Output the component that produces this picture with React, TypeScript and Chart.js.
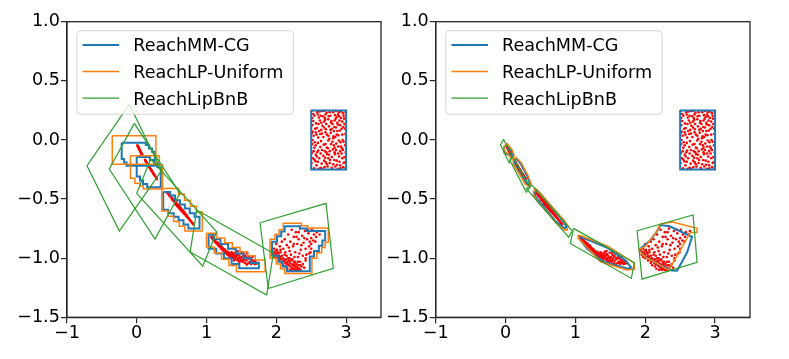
import React, { useEffect, useRef } from "react";
import { Chart, registerables } from "chart.js";

Chart.register(...registerables);

type P = [number, number];

// ---------- axes ----------
const xTicks = [-1, 0, 1, 2, 3];
const xTickLabels = ["\u22121", "0", "1", "2", "3"];
const yTicks = [-1.5, -1.0, -0.5, 0.0, 0.5, 1.0];
const yTickLabels = ["\u22121.5", "\u22121.0", "\u22120.5", "0.0", "0.5", "1.0"];
const xMin = -1;
const xMax = 3.5;
const yMin = -1.5;
const yMax = 1.0;

// ---------- series ----------
const seriesNames = ["ReachMM-CG", "ReachLP-Uniform", "ReachLipBnB"];
const seriesColors = ["#1f77b4", "#ff7f0e", "#2ca02c"];
const seriesWidths = [2, 1.5, 1.2];
const sampleColor = "#ff0000";

// ---------- Monte Carlo samples (shared by both panels) ----------
const samples0: P[] = [
  [2.53, 0.22], [2.61, 0.19], [2.72, 0.23], [2.84, 0.21], [2.93, 0.24], [2.57, 0.14], [2.66, 0.12], [2.79, 0.16], [2.88, 0.13], [2.97, 0.18],
  [2.52, 0.07], [2.63, 0.05], [2.71, 0.09], [2.82, 0.03], [2.91, 0.08], [2.55, -0.02], [2.68, -0.04], [2.76, 0.01], [2.86, -0.03], [2.95, 0.0],
  [2.51, -0.11], [2.6, -0.09], [2.73, -0.12], [2.81, -0.08], [2.9, -0.14], [2.56, -0.18], [2.65, -0.2], [2.77, -0.17], [2.87, -0.21], [2.98, -0.19],
  [2.54, -0.24], [2.69, -0.23], [2.8, -0.245], [2.92, -0.24], [2.62, 0.24], [2.75, 0.2], [2.9, 0.2], [2.58, 0.1], [2.7, 0.17], [2.83, 0.11],
  [2.96, 0.11], [2.52, 0.0], [2.64, -0.01], [2.74, -0.07], [2.84, -0.12], [2.94, -0.07], [2.58, -0.14], [2.71, -0.19], [2.83, -0.17], [2.96, -0.23],
  [2.6, 0.02], [2.78, 0.06], [2.89, 0.04], [2.67, 0.2], [2.99, 0.05], [2.53, 0.16], [2.85, 0.18], [2.7, -0.15], [2.63, -0.06], [2.92, -0.02],
  [2.515, 0.185], [2.595, 0.215], [2.685, 0.155], [2.765, 0.235], [2.855, 0.245], [2.945, 0.155], [2.535, 0.035], [2.645, 0.085], [2.725, 0.045], [2.805, 0.135],
  [2.875, 0.075], [2.985, -0.045], [2.545, -0.065], [2.615, -0.155], [2.695, -0.095], [2.785, -0.035], [2.865, -0.175], [2.935, -0.115], [2.575, -0.215], [2.735, -0.225],
  [2.815, -0.205], [2.905, -0.185], [2.975, -0.145], [2.525, -0.155], [2.655, -0.245], [2.745, -0.005], [2.835, -0.065], [2.915, 0.125], [2.565, 0.065], [2.625, 0.165],
  [2.705, 0.215], [2.795, 0.095], [2.885, 0.215], [2.955, 0.225], [2.585, -0.105], [2.675, 0.025], [2.755, -0.125], [2.845, 0.025], [2.925, -0.055], [2.985, 0.095],
  [2.505, 0.245], [2.545, 0.205], [2.585, 0.235], [2.635, 0.205], [2.655, 0.245], [2.695, 0.185], [2.745, 0.175], [2.775, 0.205], [2.815, 0.235], [2.835, 0.165],
  [2.865, 0.195], [2.895, 0.235], [2.925, 0.185], [2.965, 0.205], [2.995, 0.235], [2.515, 0.125], [2.555, 0.095], [2.605, 0.135], [2.645, 0.145], [2.685, 0.105],
  [2.715, 0.135], [2.755, 0.115], [2.785, 0.145], [2.825, 0.075], [2.855, 0.105], [2.905, 0.165], [2.935, 0.095], [2.975, 0.135], [2.505, 0.055], [2.575, 0.045],
  [2.615, 0.075], [2.655, 0.055], [2.705, 0.065], [2.745, 0.035], [2.775, 0.085], [2.815, 0.015], [2.865, 0.045], [2.895, -0.005], [2.945, 0.045], [2.965, -0.015],
  [2.515, -0.035], [2.565, -0.045], [2.595, -0.025], [2.655, -0.085], [2.705, -0.035], [2.725, -0.065], [2.765, -0.095], [2.805, -0.015], [2.855, -0.085], [2.885, -0.055],
  [2.915, -0.095], [2.955, -0.085], [2.995, -0.105], [2.535, -0.095], [2.565, -0.125], [2.635, -0.115], [2.675, -0.135], [2.715, -0.105], [2.795, -0.145], [2.835, -0.105],
  [2.885, -0.115], [2.945, -0.155], [2.505, -0.195], [2.545, -0.165], [2.595, -0.185], [2.635, -0.235], [2.685, -0.175], [2.725, -0.205], [2.765, -0.195], [2.795, -0.235],
  [2.845, -0.225], [2.885, -0.245], [2.915, -0.215], [2.965, -0.195], [2.995, -0.245], [2.605, -0.245], [2.745, -0.155], [2.825, -0.045], [2.875, 0.145], [2.685, 0.245],
];
const samples1: P[] = [
  [0.01, -0.045], [0.016, -0.053], [0.021, -0.057], [0.027, -0.066], [0.033, -0.071], [0.038, -0.08], [0.044, -0.085], [0.05, -0.094], [0.055, -0.098], [0.061, -0.108],
  [0.066, -0.112], [0.072, -0.121], [0.078, -0.126], [0.082, -0.133], [0.03, -0.069], [0.047, -0.089], [0.058, -0.102], [0.069, -0.116], [0.019, -0.056], [0.041, -0.082],
];
const samples2: P[] = [
  [0.12, -0.168], [0.13, -0.181], [0.142, -0.189], [0.15, -0.199], [0.16, -0.209], [0.171, -0.219], [0.18, -0.228], [0.19, -0.237], [0.2, -0.247], [0.21, -0.258],
  [0.221, -0.264], [0.23, -0.277], [0.24, -0.283], [0.25, -0.294], [0.26, -0.302], [0.27, -0.311], [0.28, -0.32], [0.29, -0.331], [0.165, -0.213], [0.205, -0.251],
  [0.245, -0.291], [0.135, -0.185], [0.125, -0.176], [0.175, -0.222], [0.215, -0.262], [0.255, -0.297], [0.285, -0.326],
];
const samples3: P[] = [
  [0.44, -0.45], [0.455, -0.458], [0.47, -0.472], [0.478, -0.474], [0.49, -0.482], [0.5, -0.49], [0.505, -0.5], [0.515, -0.497], [0.52, -0.51], [0.53, -0.515],
  [0.535, -0.505], [0.545, -0.53], [0.55, -0.52], [0.56, -0.54], [0.565, -0.527], [0.57, -0.548], [0.58, -0.545], [0.585, -0.562], [0.59, -0.548], [0.6, -0.57],
  [0.605, -0.555], [0.612, -0.575], [0.62, -0.568], [0.628, -0.59], [0.635, -0.58], [0.642, -0.6], [0.65, -0.59], [0.66, -0.61], [0.665, -0.598], [0.675, -0.62],
  [0.68, -0.61], [0.69, -0.63], [0.7, -0.628], [0.71, -0.645], [0.72, -0.64], [0.73, -0.658], [0.74, -0.66], [0.75, -0.668], [0.76, -0.677], [0.77, -0.683],
  [0.78, -0.69], [0.79, -0.698], [0.8, -0.705], [0.81, -0.712], [0.555, -0.545], [0.625, -0.575], [0.695, -0.622],
  [0.462, -0.466], [0.485, -0.479], [0.512, -0.506], [0.541, -0.52], [0.575, -0.553], [0.595, -0.56], [0.615, -0.583], [0.655, -0.603], [0.685, -0.622], [0.725, -0.65],
];
const samples4: P[] = [
  [1.07, -0.82], [1.08, -0.83], [1.09, -0.828], [1.095, -0.84], [1.1, -0.845], [1.11, -0.85], [1.115, -0.842], [1.12, -0.86], [1.13, -0.862], [1.135, -0.872],
  [1.14, -0.865], [1.15, -0.878], [1.16, -0.885], [1.165, -0.875], [1.17, -0.893], [1.18, -0.89], [1.185, -0.902], [1.19, -0.895], [1.2, -0.91], [1.21, -0.9],
  [1.215, -0.918], [1.22, -0.925], [1.23, -0.915], [1.235, -0.932], [1.24, -0.922], [1.25, -0.94], [1.26, -0.93], [1.265, -0.948], [1.27, -0.955], [1.28, -0.94],
  [1.285, -0.96], [1.29, -0.95], [1.3, -0.968], [1.305, -0.945], [1.31, -0.975], [1.32, -0.96], [1.33, -0.982], [1.335, -0.955], [1.34, -0.99], [1.35, -0.97],
  [1.36, -0.95], [1.37, -0.985], [1.38, -1.0], [1.39, -0.96], [1.4, -0.975], [1.41, -1.005], [1.42, -0.945], [1.43, -0.99], [1.44, -1.015], [1.45, -0.965],
  [1.46, -1.0], [1.47, -0.98], [1.48, -1.025], [1.49, -0.955], [1.5, -1.01], [1.51, -0.99], [1.52, -1.03], [1.53, -0.97], [1.54, -1.0], [1.55, -1.04],
  [1.56, -0.985], [1.57, -1.02], [1.58, -0.96], [1.59, -1.045], [1.6, -1.005], [1.61, -0.985], [1.62, -1.03], [1.63, -1.0], [1.64, -1.05], [1.65, -1.015],
  [1.66, -0.99], [1.67, -1.04], [1.68, -1.02], [1.69, -1.05], [1.7, -1.03], [1.72, -1.045], [1.74, -1.04], [1.415, -0.96], [1.465, -1.03], [1.525, -0.955],
  [1.575, -1.055], [1.345, -1.0], [1.395, -1.02], [1.445, -0.94],
  [1.075, -0.825], [1.085, -0.835], [1.105, -0.838], [1.125, -0.855], [1.145, -0.872], [1.155, -0.868], [1.175, -0.88], [1.195, -0.905], [1.205, -0.892], [1.225, -0.91],
  [1.245, -0.935], [1.255, -0.925], [1.275, -0.945], [1.295, -0.962], [1.315, -0.955], [1.325, -0.97], [1.355, -0.985], [1.375, -0.965], [1.385, -0.99], [1.405, -0.99],
  [1.435, -0.975], [1.455, -1.01], [1.485, -0.995], [1.505, -1.025], [1.535, -1.015], [1.545, -0.975], [1.585, -1.0], [1.615, -1.04], [1.655, -1.035], [1.705, -1.045],
];
const samples5: P[] = [
  [1.94, -0.93], [1.96, -0.95], [1.97, -0.92], [1.98, -0.96], [1.99, -0.94], [2.0, -0.97], [2.01, -0.93], [2.02, -0.99], [2.03, -0.96], [2.04, -0.98],
  [2.05, -1.0], [2.06, -0.95], [2.07, -1.01], [2.08, -0.98], [2.09, -1.03], [2.1, -1.0], [2.11, -1.02], [2.12, -0.97], [2.13, -1.04], [2.14, -1.01],
  [2.15, -1.05], [2.16, -1.03], [2.17, -1.0], [2.18, -1.06], [2.19, -1.04], [2.2, -1.07], [2.21, -1.02], [2.22, -1.05], [2.23, -1.08], [2.24, -1.06],
  [2.25, -1.03], [2.26, -1.09], [2.27, -1.07], [2.28, -1.1], [2.29, -1.05], [2.3, -1.08], [2.31, -1.1], [2.32, -1.06], [2.33, -1.09], [2.34, -1.03],
  [2.35, -1.1], [2.36, -1.07], [2.38, -1.05], [2.4, -1.08], [2.42, -1.02],
  [2.0, -0.88], [2.05, -0.9], [2.08, -0.86], [2.1, -0.92], [2.12, -0.84], [2.15, -0.89], [2.17, -0.8], [2.19, -0.94], [2.2, -0.86], [2.22, -0.76],
  [2.24, -0.9], [2.25, -0.82], [2.27, -0.95], [2.28, -0.78], [2.3, -0.88], [2.31, -0.99], [2.32, -0.84], [2.34, -0.75], [2.35, -0.93], [2.37, -0.81],
  [2.38, -0.98], [2.39, -0.87], [2.41, -0.77], [2.42, -0.92], [2.44, -0.84], [2.42, -1.0], [2.46, -0.79], [2.47, -0.9], [2.49, -0.95], [2.5, -0.83],
  [2.51, -0.76], [2.5, -0.88], [2.54, -0.8], [2.5, -0.92], [2.57, -0.82], [2.58, -0.78], [2.56, -0.86], [2.62, -0.8], [2.64, -0.77], [2.13, -0.95],
  [2.18, -0.91], [2.26, -0.99], [2.33, -0.96], [2.43, -0.97], [2.36, -0.89], [2.29, -0.82], [2.21, -0.97], [2.06, -0.93], [2.48, -0.86], [2.47, -0.96],
  [1.95, -0.97], [1.97, -0.99], [2.0, -1.0], [2.02, -0.95], [2.04, -1.02], [2.06, -0.99], [2.08, -1.04], [2.1, -1.06], [2.12, -1.02], [2.14, -1.07],
  [2.16, -1.09], [2.18, -1.02], [2.2, -1.1], [2.22, -1.09], [2.24, -1.1], [2.26, -1.05], [2.28, -1.07], [2.3, -1.1], [2.32, -1.09], [2.34, -1.06],
  [2.15, -0.98], [2.19, -1.0], [2.23, -1.01], [2.27, -1.03], [2.31, -1.03], [2.25, -0.88], [2.32, -0.78], [2.4, -0.83], [2.45, -0.76], [2.53, -0.85],
];
const samples = [samples0, samples1, samples2, samples3, samples4, samples5];

// ---------- left panel reachable sets ----------
const leftBlue: P[][] = [
  [[2.5, 0.25], [3.0, 0.25], [3.0, -0.25], [2.5, -0.25]],
  [[-0.215, -0.024], [0.13, -0.024], [0.13, -0.043], [0.175, -0.043], [0.175, -0.073], [0.22, -0.073], [0.22, -0.1], [0.26, -0.1], [0.26, -0.218], [-0.145, -0.218], [-0.145, -0.19], [-0.18, -0.19], [-0.18, -0.162], [-0.215, -0.162]],
  [[0.0, -0.145], [0.19, -0.145], [0.19, -0.17], [0.25, -0.17], [0.25, -0.2], [0.295, -0.2], [0.295, -0.23], [0.345, -0.23], [0.345, -0.4], [0.15, -0.4], [0.15, -0.373], [0.09, -0.373], [0.09, -0.343], [0.047, -0.343], [0.047, -0.31], [0.0, -0.31]],
  [[0.38, -0.44], [0.48, -0.44], [0.48, -0.47], [0.55, -0.47], [0.55, -0.51], [0.62, -0.51], [0.62, -0.545], [0.69, -0.545], [0.69, -0.58], [0.76, -0.58], [0.76, -0.62], [0.83, -0.62], [0.83, -0.65], [0.9, -0.65], [0.9, -0.75], [0.74, -0.75], [0.74, -0.715], [0.67, -0.715], [0.67, -0.68], [0.6, -0.68], [0.6, -0.65], [0.53, -0.65], [0.53, -0.62], [0.45, -0.62], [0.45, -0.59], [0.38, -0.59]],
  [[1.03, -0.8], [1.1, -0.8], [1.1, -0.84], [1.2, -0.84], [1.2, -0.88], [1.31, -0.88], [1.31, -0.92], [1.42, -0.92], [1.42, -0.96], [1.53, -0.96], [1.53, -1.0], [1.64, -1.0], [1.64, -1.04], [1.75, -1.04], [1.75, -1.085], [1.47, -1.085], [1.47, -1.05], [1.36, -1.05], [1.36, -1.0], [1.25, -1.0], [1.25, -0.96], [1.14, -0.96], [1.14, -0.92], [1.03, -0.92]],
  [[2.17, -0.73], [2.34, -0.73], [2.34, -0.75], [2.43, -0.75], [2.43, -0.77], [2.7, -0.77], [2.7, -0.85], [2.66, -0.85], [2.66, -0.895], [2.61, -0.895], [2.61, -0.94], [2.54, -0.94], [2.54, -0.985], [2.48, -0.985], [2.48, -1.11], [2.15, -1.11], [2.15, -1.07], [2.09, -1.07], [2.09, -1.03], [2.03, -1.03], [2.03, -0.98], [1.94, -0.98], [1.94, -0.86], [2.01, -0.86], [2.01, -0.815], [2.07, -0.815], [2.07, -0.775], [2.12, -0.775], [2.12, -0.73]],
];
const leftOrange: P[][] = [
  [[-0.35, 0.035], [0.275, 0.035], [0.275, -0.205], [-0.35, -0.205]],
  [[-0.09, -0.134], [0.325, -0.134], [0.325, -0.21], [0.37, -0.21], [0.37, -0.415], [0.095, -0.415], [0.095, -0.39], [0.045, -0.39], [0.045, -0.367], [-0.025, -0.367], [-0.025, -0.325], [-0.09, -0.325]],
  [[0.36, -0.41], [0.6, -0.41], [0.6, -0.46], [0.685, -0.46], [0.685, -0.51], [0.77, -0.51], [0.77, -0.56], [0.855, -0.56], [0.855, -0.61], [0.94, -0.61], [0.94, -0.77], [0.69, -0.77], [0.69, -0.73], [0.61, -0.73], [0.61, -0.69], [0.53, -0.69], [0.53, -0.645], [0.445, -0.645], [0.445, -0.6], [0.36, -0.6]],
  [[1.0, -0.79], [1.15, -0.79], [1.15, -0.83], [1.26, -0.83], [1.26, -0.87], [1.37, -0.87], [1.37, -0.91], [1.48, -0.91], [1.48, -0.945], [1.59, -0.945], [1.59, -0.98], [1.7, -0.98], [1.7, -1.015], [1.84, -1.015], [1.84, -1.115], [1.43, -1.115], [1.43, -1.062], [1.32, -1.062], [1.32, -1.01], [1.215, -1.01], [1.215, -0.957], [1.11, -0.957], [1.11, -0.905], [1.0, -0.905]],
  [[2.15, -0.705], [2.36, -0.705], [2.36, -0.725], [2.45, -0.725], [2.45, -0.745], [2.745, -0.745], [2.745, -0.865], [2.7, -0.865], [2.7, -0.91], [2.65, -0.91], [2.65, -0.955], [2.58, -0.955], [2.58, -1.0], [2.51, -1.0], [2.51, -1.13], [2.12, -1.13], [2.12, -1.09], [2.06, -1.09], [2.06, -1.05], [2.0, -1.05], [2.0, -1.0], [1.91, -1.0], [1.91, -0.84], [1.98, -0.84], [1.98, -0.8], [2.04, -0.8], [2.04, -0.76], [2.1, -0.76], [2.1, -0.705]],
];
const leftGreen: P[][] = [
  [[-0.106, 0.301], [0.357, -0.26], [-0.249, -0.771], [-0.712, -0.218]],
  [[-0.034, 0.14], [0.62, -0.452], [0.262, -0.838], [-0.393, -0.246]],
  [[0.201, -0.162], [1.146, -0.777], [0.946, -1.067], [0.0, -0.452]],
  [[0.86, -0.593], [1.958, -0.959], [1.862, -1.312], [0.766, -0.947]],
  [[1.767, -0.7], [2.712, -0.536], [2.817, -1.086], [1.885, -1.256]],
];

// ---------- right panel reachable sets ----------
const rightBlue: P[][] = [
  [[2.5, 0.25], [3.0, 0.25], [3.0, -0.25], [2.5, -0.25]],
  [[-0.03, -0.065], [0.02, -0.045], [0.085, -0.09], [0.11, -0.135], [0.095, -0.15], [0.04, -0.125], [-0.015, -0.11]],
  [[0.125, -0.175], [0.155, -0.16], [0.22, -0.205], [0.315, -0.31], [0.35, -0.37], [0.335, -0.385], [0.29, -0.36], [0.19, -0.27], [0.125, -0.2]],
  [[0.42, -0.44], [0.45, -0.425], [0.59, -0.52], [0.83, -0.69], [0.87, -0.735], [0.85, -0.75], [0.72, -0.69], [0.47, -0.51], [0.42, -0.47]],
  [[1.06, -0.815], [1.45, -0.91], [1.72, -1.02], [1.8, -1.08], [1.75, -1.09], [1.4, -1.03], [1.17, -0.92], [1.06, -0.84]],
  [[1.91, -0.93], [2.07, -0.85], [2.16, -0.78], [2.22, -0.72], [2.35, -0.73], [2.67, -0.82], [2.6, -0.95], [2.456, -1.107], [2.38, -1.105], [2.17, -1.045], [2.0, -0.99]],
];
const rightOrange: P[][] = [
  [[-0.029, -0.061], [0.024, -0.03], [0.096, -0.085], [0.125, -0.136], [0.096, -0.157], [0.039, -0.128], [-0.019, -0.085]],
  [[0.11, -0.17], [0.153, -0.149], [0.225, -0.195], [0.325, -0.305], [0.368, -0.373], [0.34, -0.398], [0.282, -0.373], [0.182, -0.272], [0.11, -0.203]],
  [[0.4, -0.43], [0.43, -0.41], [0.5, -0.45], [0.6, -0.52], [0.72, -0.6], [0.84, -0.68], [0.895, -0.73], [0.88, -0.765], [0.84, -0.76], [0.72, -0.7], [0.58, -0.6], [0.46, -0.52], [0.4, -0.465]],
  [[1.04, -0.805], [1.08, -0.81], [1.47, -0.9], [1.84, -1.04], [1.845, -1.095], [1.74, -1.1], [1.36, -1.03], [1.17, -0.91], [1.04, -0.83]],
  [[1.905, -0.931], [2.0, -0.9], [2.073, -0.847], [2.159, -0.779], [2.216, -0.711], [2.388, -0.695], [2.742, -0.748], [2.742, -0.782], [2.646, -0.782], [2.503, -0.931], [2.335, -1.101], [2.169, -1.044], [2.001, -0.991]],
];
const rightGreen: P[][] = [
  [[-0.029, 0.005], [0.096, -0.145], [0.053, -0.195], [-0.072, -0.043]],
  [[0.096, -0.14], [0.354, -0.398], [0.297, -0.441], [0.06, -0.17]],
  [[0.378, -0.382], [0.956, -0.771], [0.903, -0.822], [0.297, -0.411]],
  [[0.974, -0.748], [1.844, -1.039], [1.801, -1.171], [0.927, -0.875]],
  [[1.883, -0.768], [2.685, -0.635], [2.742, -1.036], [1.954, -1.177]],
];

// ---------- rendering ----------
const FONT_FAMILY = "'DejaVu Sans', sans-serif";
const FONT_SIZE = 17.6;
const AXIS_COLOR = "#262626";

function polyDataset(poly: P[], seriesIndex: number) {
  const closed = poly.concat([poly[0]]);
  return {
    data: closed.map(([x, y]) => ({ x, y })),
    showLine: true,
    borderColor: seriesColors[seriesIndex],
    backgroundColor: seriesColors[seriesIndex],
    borderWidth: seriesWidths[seriesIndex],
    pointRadius: 0,
    pointHoverRadius: 0,
    fill: false,
    tension: 0,
    order: 2 - seriesIndex,
  };
}

function sampleDataset(pts: P[]) {
  return {
    data: pts.map(([x, y]) => ({ x, y })),
    showLine: false,
    pointRadius: 1.3,
    pointHoverRadius: 1.3,
    pointBorderWidth: 0,
    pointBackgroundColor: sampleColor,
    borderColor: sampleColor,
    backgroundColor: sampleColor,
    order: 5,
  };
}

const framePlugin = {
  id: "mplFrameLegend",
  afterDraw(chart: any) {
    const { ctx, chartArea } = chart;
    ctx.save();
    ctx.strokeStyle = AXIS_COLOR;
    ctx.lineWidth = 1.3;
    ctx.strokeRect(chartArea.left, chartArea.top, chartArea.right - chartArea.left, chartArea.bottom - chartArea.top);

    const bx = chartArea.left + 10;
    const by = chartArea.top + 9;
    const bw = 216.5;
    const bh = 83.6;
    const r = 4;
    ctx.beginPath();
    ctx.moveTo(bx + r, by);
    ctx.lineTo(bx + bw - r, by);
    ctx.arcTo(bx + bw, by, bx + bw, by + r, r);
    ctx.lineTo(bx + bw, by + bh - r);
    ctx.arcTo(bx + bw, by + bh, bx + bw - r, by + bh, r);
    ctx.lineTo(bx + r, by + bh);
    ctx.arcTo(bx, by + bh, bx, by + bh - r, r);
    ctx.lineTo(bx, by + r);
    ctx.arcTo(bx, by, bx + r, by, r);
    ctx.closePath();
    ctx.fillStyle = "rgba(255,255,255,0.8)";
    ctx.fill();
    ctx.strokeStyle = "rgba(204,204,204,0.8)";
    ctx.lineWidth = 1;
    ctx.stroke();

    ctx.font = `${FONT_SIZE}px ${FONT_FAMILY}`;
    ctx.textAlign = "left";
    ctx.textBaseline = "alphabetic";
    seriesNames.forEach((name, i) => {
      const ry = by + 14.3 + i * 26.6;
      ctx.beginPath();
      ctx.strokeStyle = seriesColors[i];
      ctx.lineWidth = seriesWidths[i];
      ctx.moveTo(bx + 5.7, ry);
      ctx.lineTo(bx + 42.3, ry);
      ctx.stroke();
      ctx.fillStyle = "#000";
      ctx.fillText(name, bx + 56.3, ry + 6.4);
    });
    ctx.restore();
  },
};

type PanelProps = {
  blue: P[][];
  orange: P[][];
  green: P[][];
  left: number;
  width: number;
  axisWidth: number;
  padRight: number;
};

function ReachPanel({ blue, orange, green, left, width, axisWidth, padRight }: PanelProps) {
  const ref = useRef<HTMLCanvasElement | null>(null);
  useEffect(() => {
    if (!ref.current) return;
    const datasets: any[] = [];
    green.forEach((p) => datasets.push(polyDataset(p, 2)));
    orange.forEach((p) => datasets.push(polyDataset(p, 1)));
    blue.forEach((p) => datasets.push(polyDataset(p, 0)));
    samples.forEach((s) => datasets.push(sampleDataset(s)));

    const font = { family: FONT_FAMILY, size: FONT_SIZE };
    const chart = new Chart(ref.current, {
      type: "scatter",
      data: { datasets },
      plugins: [framePlugin],
      options: {
        animation: false,
        responsive: false,
        maintainAspectRatio: false,
        events: [],
        layout: { padding: { top: 21.7, right: padRight, bottom: 0, left: 0 } },
        plugins: { legend: { display: false }, tooltip: { enabled: false } },
        scales: {
          x: {
            type: "linear",
            min: xMin,
            max: xMax,
            afterBuildTicks: (s: any) => {
              s.ticks = xTicks.map((v) => ({ value: v }));
            },
            afterFit: (s: any) => {
              s.height = 41.7;
            },
            grid: { drawOnChartArea: false, drawTicks: true, tickLength: 6, color: AXIS_COLOR, lineWidth: 1.2 },
            border: { display: true, color: AXIS_COLOR, width: 1.3 },
            ticks: {
              font,
              color: "#000",
              padding: 0,
              maxRotation: 0,
              autoSkip: false,
              callback: (v: any) => xTickLabels[xTicks.indexOf(Number(v))],
            },
          },
          y: {
            type: "linear",
            min: yMin,
            max: yMax,
            afterBuildTicks: (s: any) => {
              s.ticks = yTicks.map((v) => ({ value: v }));
            },
            afterFit: (s: any) => {
              s.width = axisWidth;
            },
            grid: { drawOnChartArea: false, drawTicks: true, tickLength: 6, color: AXIS_COLOR, lineWidth: 1.2 },
            border: { display: true, color: AXIS_COLOR, width: 1.3 },
            ticks: {
              font,
              color: "#000",
              padding: 1,
              autoSkip: false,
              callback: (v: any) => yTickLabels[yTicks.indexOf(Number(v))],
            },
          },
        },
      } as any,
    });
    return () => chart.destroy();
  }, []);
  return (
    <canvas
      ref={ref}
      width={width}
      height={359}
      style={{ position: "absolute", left, top: 0, width, height: 359 }}
    />
  );
}

export default function App() {
  return (
    <div style={{ position: "absolute", left: 0, top: 0, width: 789, height: 359, background: "#fff" }}>
      <ReachPanel blue={leftBlue} orange={leftOrange} green={leftGreen} left={0} width={394} axisWidth={66.9} padRight={13} />
      <ReachPanel blue={rightBlue} orange={rightOrange} green={rightGreen} left={383} width={406} axisWidth={52.7} padRight={39} />
    </div>
  );
}
